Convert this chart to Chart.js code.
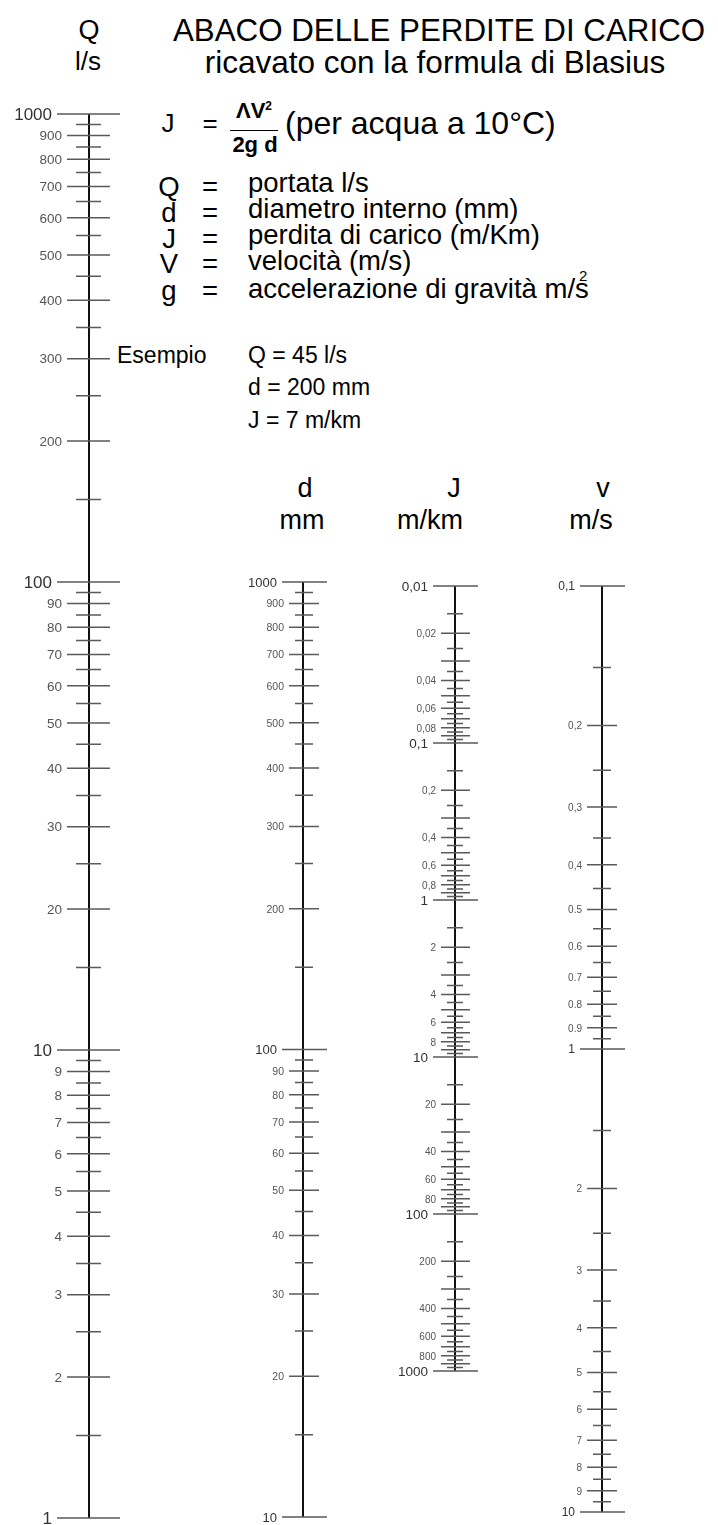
<!DOCTYPE html>
<html>
<head>
<meta charset="utf-8">
<title>Abaco delle perdite di carico</title>
<script src="https://cdn.jsdelivr.net/npm/chart.js"></script>
<style>
    body { margin: 0; width: 718px; height: 1525px; overflow: hidden; background: #fff; position: relative;
           font-family: 'Liberation Sans', Arial, sans-serif; }
    .t { position: absolute; white-space: nowrap; line-height: 1; color: #000; }
    .c { transform: translateX(-50%); }
    .b { font-size: 27.5px; }
    .e { font-size: 23px; }
    canvas { position: absolute; }
</style>
</head>
<body>
    <!-- headings -->
    <div class="t c" style="left:89px;top:17px;font-size:27px">Q</div>
    <div class="t c" style="left:88px;top:48px;font-size:26px">l/s</div>
    <div class="t c" style="left:439px;top:15px;font-size:31.3px">ABACO DELLE PERDITE DI CARICO</div>
    <div class="t c" style="left:435px;top:47px;font-size:31.5px">ricavato con la formula di Blasius</div>

    <!-- formula -->
    <div class="t c" style="left:168px;top:110px;font-size:26px">J</div>
    <div class="t c" style="left:210px;top:110px;font-size:26px">=</div>
    <div class="t c" style="left:254px;top:100px;font-size:22px;font-weight:bold">&Lambda;V<span style="font-size:12px;vertical-align:8px">2</span></div>
    <div class="t" style="left:230px;top:130px;width:48px;border-top:1.5px solid #000"></div>
    <div class="t c" style="left:255px;top:134px;font-size:22px;font-weight:bold">2g d</div>
    <div class="t" style="left:285px;top:107px;font-size:32px">(per acqua a 10°C)</div>

    <!-- legend of symbols -->
    <div class="t c b" style="left:169px;top:172.5px">Q</div>
    <div class="t c b" style="left:210px;top:172.5px">=</div>
    <div class="t b" style="left:248px;top:168.5px">portata l/s</div>
    <div class="t c b" style="left:169px;top:198.5px">d</div>
    <div class="t c b" style="left:210px;top:198.5px">=</div>
    <div class="t b" style="left:248px;top:194.5px">diametro interno (mm)</div>
    <div class="t c b" style="left:169px;top:224.5px">J</div>
    <div class="t c b" style="left:210px;top:224.5px">=</div>
    <div class="t b" style="left:248px;top:220.5px">perdita di carico (m/Km)</div>
    <div class="t c b" style="left:169px;top:249.5px">V</div>
    <div class="t c b" style="left:210px;top:249.5px">=</div>
    <div class="t b" style="left:248px;top:246.5px">velocità (m/s)</div>
    <div class="t c b" style="left:169px;top:276.5px">g</div>
    <div class="t c b" style="left:210px;top:276.5px">=</div>
    <div class="t b" style="left:248px;top:274.5px">accelerazione di gravità m/s</div>
    <div class="t" style="left:579px;top:268px;font-size:15px">2</div>

    <!-- example -->
    <div class="t e" style="left:117px;top:344px">Esempio</div>
    <div class="t e" style="left:248px;top:344px">Q = 45 l/s</div>
    <div class="t e" style="left:248px;top:376px">d = 200 mm</div>
    <div class="t e" style="left:248px;top:409px">J = 7 m/km</div>

    <!-- column headers -->
    <div class="t c" style="left:305px;top:475px;font-size:27px">d</div>
    <div class="t c" style="left:302px;top:507px;font-size:27px">mm</div>
    <div class="t c" style="left:454px;top:475px;font-size:27px">J</div>
    <div class="t c" style="left:430px;top:507px;font-size:27px">m/km</div>
    <div class="t c" style="left:603px;top:475px;font-size:27px">v</div>
    <div class="t c" style="left:591px;top:507px;font-size:27px">m/s</div>

    <canvas id="qAxis"></canvas>
    <canvas id="dAxis"></canvas>
    <canvas id="jAxis"></canvas>
    <canvas id="vAxis"></canvas>

<script>
// Q - portata (l/s)
const qMajorTicks = [1, 10, 100, 1000];
const qMajorLabels = ['1', '10', '100', '1000'];
const qTicks = [2, 3, 4, 5, 6, 7, 8, 9, 20, 30, 40, 50, 60, 70, 80, 90, 200, 300, 400, 500, 600, 700, 800, 900];
const qTickLabels = ['2', '3', '4', '5', '6', '7', '8', '9', '20', '30', '40', '50', '60', '70', '80', '90',
    '200', '300', '400', '500', '600', '700', '800', '900'];
const qHalfTicks = [1.5, 2.5, 3.5, 4.5, 5.5, 6.5, 7.5, 8.5, 9.5, 15, 25, 35, 45, 55, 65, 75, 85, 95,
    150, 250, 350, 450, 550, 650, 750, 850, 950];

// d - diametro (mm)
const dMajorTicks = [10, 100, 1000];
const dMajorLabels = ['10', '100', '1000'];
const dTicks = [20, 30, 40, 50, 60, 70, 80, 90, 200, 300, 400, 500, 600, 700, 800, 900];
const dTickLabels = ['20', '30', '40', '50', '60', '70', '80', '90', '200', '300', '400', '500', '600', '700', '800', '900'];
const dHalfTicks = [15, 25, 35, 45, 55, 65, 75, 85, 95, 150, 250, 350, 450, 550, 650, 750, 850, 950];

// J - perdita di carico (m/km)
const jMajorTicks = [0.01, 0.1, 1, 10, 100, 1000];
const jMajorLabels = ['0,01', '0,1', '1', '10', '100', '1000'];
const jTicks = [0.02, 0.04, 0.06, 0.08, 0.2, 0.4, 0.6, 0.8, 2, 4, 6, 8, 20, 40, 60, 80, 200, 400, 600, 800];
const jTickLabels = ['0,02', '0,04', '0,06', '0,08', '0,2', '0,4', '0,6', '0,8', '2', '4', '6', '8',
    '20', '40', '60', '80', '200', '400', '600', '800'];
const jOddTicks = [0.03, 0.05, 0.07, 0.09, 0.3, 0.5, 0.7, 0.9, 3, 5, 7, 9, 30, 50, 70, 90, 300, 500, 700, 900];
const jHalfTicks = [0.015, 0.025, 0.035, 0.045, 0.055, 0.065, 0.075, 0.085, 0.095,
    0.15, 0.25, 0.35, 0.45, 0.55, 0.65, 0.75, 0.85, 0.95,
    1.5, 2.5, 3.5, 4.5, 5.5, 6.5, 7.5, 8.5, 9.5,
    15, 25, 35, 45, 55, 65, 75, 85, 95,
    150, 250, 350, 450, 550, 650, 750, 850, 950];

// v - velocita (m/s)
const vMajorTicks = [0.1, 1, 10];
const vMajorLabels = ['0,1', '1', '10'];
const vTicks = [0.2, 0.3, 0.4, 0.5, 0.6, 0.7, 0.8, 0.9, 2, 3, 4, 5, 6, 7, 8, 9];
const vTickLabels = ['0,2', '0,3', '0,4', '0.5', '0.6', '0.7', '0.8', '0.9', '2', '3', '4', '5', '6', '7', '8', '9'];
const vHalfTicks = [0.15, 0.25, 0.35, 0.45, 0.55, 0.65, 0.75, 0.85, 0.95, 1.5, 2.5, 3.5, 4.5, 5.5, 6.5, 7.5, 8.5, 9.5];

const TICK_COLOR = '#5a5a5a';
const LABEL_FONT = "'Liberation Sans', Arial, sans-serif";

// each tick is a short horizontal segment, segments split by a null point
function segments(values, left, right) {
    const pts = [];
    values.forEach(v => {
        pts.push({ x: -left, y: v }, { x: right, y: v }, { x: null, y: null });
    });
    return pts;
}

function lineSet(data, color, width) {
    return {
        data: data, borderColor: color, borderWidth: width, showLine: true,
        pointRadius: 0, spanGaps: false, clip: false, tension: 0
    };
}

function drawScale(id, ax) {
    const canvas = document.getElementById(id);
    const pad = 24;
    canvas.width = 180;
    canvas.height = ax.bottom - ax.top + 2 * pad;
    canvas.style.left = (ax.x - 90) + 'px';
    canvas.style.top = (ax.top - pad) + 'px';

    const datasets = ax.groups.map(g => lineSet(segments(g.values, g.len[0], g.len[1]), TICK_COLOR, 1.5));
    datasets.push(lineSet([{ x: 0, y: ax.min }, { x: 0, y: ax.max }], '#111', 2));

    new Chart(canvas, {
        type: 'scatter',
        data: { datasets: datasets },
        options: {
            responsive: false,
            animation: false,
            events: [],
            layout: { padding: { top: pad, bottom: pad, left: 0, right: 0 } },
            scales: {
                x: { type: 'linear', min: -90, max: 90, display: false },
                y: { type: 'logarithmic', min: ax.min, max: ax.max, reverse: ax.reverse, display: false }
            },
            plugins: { legend: { display: false }, tooltip: { enabled: false } }
        },
        plugins: [{
            id: 'tickLabels',
            afterDatasetsDraw: chart => {
                const ctx = chart.ctx;
                const xs = chart.scales.x, ys = chart.scales.y;
                ctx.save();
                ctx.textAlign = 'right';
                ctx.textBaseline = 'middle';
                ax.groups.filter(g => g.labels).forEach(g => {
                    ctx.font = g.font + 'px ' + LABEL_FONT;
                    ctx.fillStyle = g.color;
                    const x = xs.getPixelForValue(-g.len[0]) - 5;
                    g.values.forEach((v, i) => ctx.fillText(g.labels[i], x, ys.getPixelForValue(v) + 1));
                });
                ctx.restore();
            }
        }]
    });
}

drawScale('qAxis', {
    x: 89, top: 114, bottom: 1518, min: 1, max: 1000, reverse: false,
    groups: [
        { values: qHalfTicks, len: [13, 12] },
        { values: qTicks, len: [22, 21], labels: qTickLabels, font: 13.5, color: '#555' },
        { values: qMajorTicks, len: [32, 31], labels: qMajorLabels, font: 17, color: '#333' }
    ]
});

drawScale('dAxis', {
    x: 303, top: 582, bottom: 1517, min: 10, max: 1000, reverse: false,
    groups: [
        { values: dHalfTicks, len: [8, 10] },
        { values: dTicks, len: [14, 16], labels: dTickLabels, font: 10.5, color: '#555' },
        { values: dMajorTicks, len: [21, 24], labels: dMajorLabels, font: 13, color: '#333' }
    ]
});

drawScale('jAxis', {
    x: 455, top: 586, bottom: 1371, min: 0.01, max: 1000, reverse: true,
    groups: [
        { values: jHalfTicks, len: [8, 8] },
        { values: jOddTicks, len: [14, 15] },
        { values: jTicks, len: [14, 15], labels: jTickLabels, font: 10, color: '#555' },
        { values: jMajorTicks, len: [22, 23], labels: jMajorLabels, font: 13.5, color: '#333' }
    ]
});

drawScale('vAxis', {
    x: 602, top: 586, bottom: 1512, min: 0.1, max: 10, reverse: true,
    groups: [
        { values: vHalfTicks, len: [9, 9] },
        { values: vTicks, len: [15, 15], labels: vTickLabels, font: 10, color: '#555' },
        { values: vMajorTicks, len: [22, 23], labels: vMajorLabels, font: 12, color: '#333' }
    ]
});
</script>
</body>
</html>
